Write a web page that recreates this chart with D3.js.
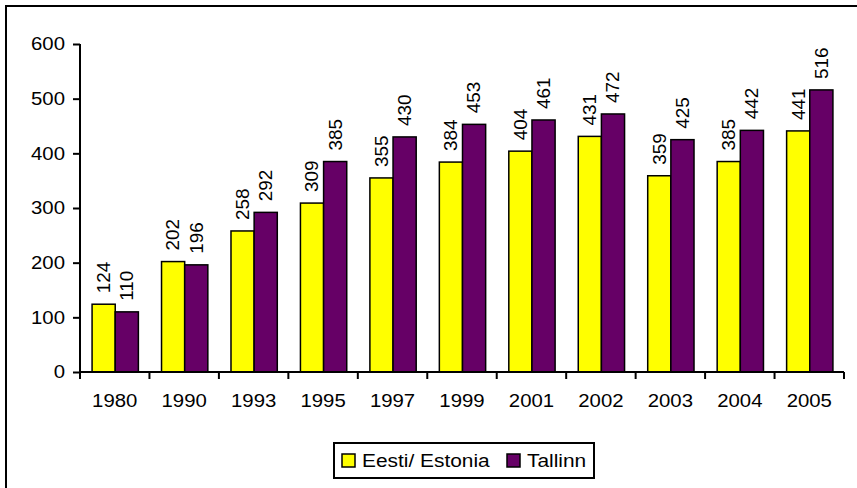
<!DOCTYPE html>
<html><head><meta charset="utf-8">
<script src="https://cdn.jsdelivr.net/npm/d3@7"></script>
<style>body{margin:0;background:#fff}svg{display:block;font-family:Arial,"Liberation Sans",sans-serif}</style>
</head><body>
<svg id="c" width="857" height="488"></svg>
<script>
const categories = ["1980","1990","1993","1995","1997","1999","2001","2002","2003","2004","2005"];
const estonia = [124,202,258,309,355,384,404,431,359,385,441];
const tallinn = [110,196,292,385,430,453,461,472,425,442,516];
const seriesNames = ["Eesti/ Estonia","Tallinn"];
const seriesColors = ["#FFFF00","#660066"];
const yTicks = [0,100,200,300,400,500,600];

const svg = d3.select("#c");
svg.append("rect").attr("x",6).attr("y",6).attr("width",870).attr("height",500)
  .attr("fill","#fff").attr("stroke","#000").attr("stroke-width",2);

const L=80, R=844, T=44, B=372;
const x = d3.scaleBand().domain(categories).range([L,R]).padding(0);
const y = d3.scaleLinear().domain([0,600]).range([B,T]);
const bw = x.bandwidth()/3;
const series = [estonia, tallinn];
const AX = 18.5, SX = 1.1;

const g = svg.append("g");
series.forEach((vals,si)=>{
  g.selectAll(".b"+si).data(categories).enter().append("rect")
    .attr("x",(d)=>x(d)+bw/2+si*bw+0.5)
    .attr("y",(d,i)=>y(vals[i]))
    .attr("width",bw)
    .attr("height",(d,i)=>B-y(vals[i]))
    .attr("fill",seriesColors[si]).attr("stroke","#000").attr("stroke-width",1.5);
  g.selectAll(".l"+si).data(categories).enter().append("text")
    .attr("transform",(d,i)=>`translate(${x(d)+bw/2+si*bw+bw/2+0.5},${y(vals[i])-11}) rotate(-90) scale(1.05,1)`)
    .attr("dominant-baseline","central").attr("font-size",18).attr("fill","#000")
    .text((d,i)=>vals[i]);
});

// axes
const ya = svg.append("g").attr("transform",`translate(${L},0)`)
  .call(d3.axisLeft(y).tickValues(yTicks).tickSize(7).tickPadding(8));
const xa = svg.append("g").attr("transform",`translate(0,${B})`)
  .call(d3.axisBottom(x).tickSize(0).tickPadding(22));
[ya,xa].forEach(a=>{
  a.select(".domain").attr("stroke","#000").attr("stroke-width",2);
  a.selectAll("line").attr("stroke","#000").attr("stroke-width",2);
  a.selectAll("text").attr("font-size",AX).attr("fill","#000").attr("font-family","Arial, 'Liberation Sans', sans-serif");
});
// widen glyphs horizontally
ya.selectAll(".tick text").each(function(){
  const t=d3.select(this); const xx=+t.attr("x");
  t.attr("x",0).attr("transform",`translate(${xx},0) scale(${SX},1)`);
});
xa.selectAll(".tick text").attr("transform",`scale(${SX},1)`);
ya.select(".domain").attr("d",`M0,${T}V${B}`);
xa.select(".domain").attr("d",`M${L},0H${R}`);
const bounds = categories.map(c=>x(c)).concat([R]);
xa.selectAll(".bt").data(bounds).enter().append("line")
  .attr("x1",d=>d).attr("x2",d=>d).attr("y1",0).attr("y2",7)
  .attr("stroke","#000").attr("stroke-width",2);

// legend
const lg = svg.append("g");
lg.append("rect").attr("x",334).attr("y",443).attr("width",260).attr("height",35)
  .attr("fill","#fff").attr("stroke","#000").attr("stroke-width",2);
const items=[{x:342,label:seriesNames[0],c:seriesColors[0]},{x:507,label:seriesNames[1],c:seriesColors[1]}];
items.forEach(it=>{
  lg.append("rect").attr("x",it.x).attr("y",454).attr("width",13).attr("height",13)
    .attr("fill",it.c).attr("stroke","#000").attr("stroke-width",1.5);
  lg.append("text").attr("transform",`translate(${it.x+20},467) scale(1.13,1)`)
    .attr("font-size",AX).attr("fill","#000").text(it.label);
});
</script>
</body></html>
